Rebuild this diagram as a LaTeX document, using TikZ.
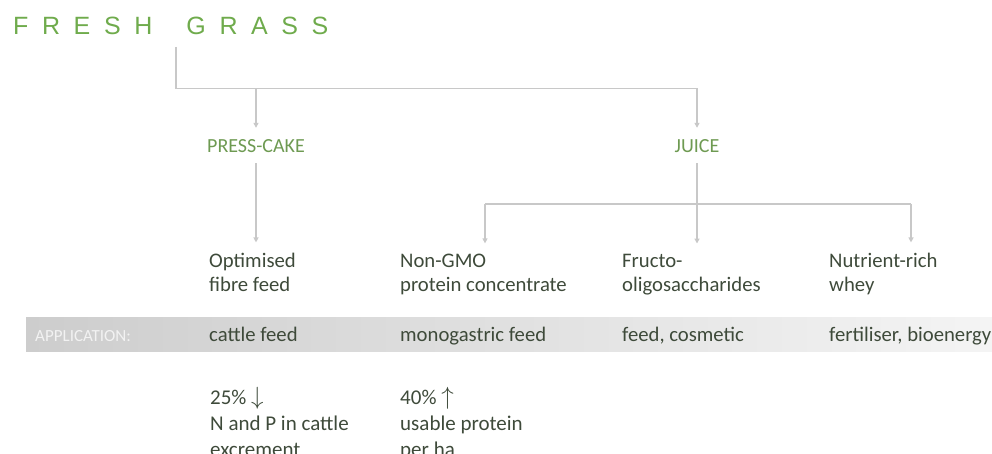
\documentclass[tikz,border=0pt]{standalone}
\usepackage{fontspec}
\setmainfont{Carlito}
\newfontfamily\titlefont{Liberation Sans}
\usetikzlibrary{arrows.meta}
\definecolor{titlegreen}{HTML}{6FAB4C}
\definecolor{labgreen}{HTML}{6E9A52}
\definecolor{bodytext}{HTML}{3E4A3A}
\definecolor{connc}{HTML}{C8C8C8}
\definecolor{barL}{HTML}{CDCDCD}
\definecolor{barR}{HTML}{F4F4F4}
\definecolor{apptext}{HTML}{F2F2F2}
\newcommand\ls{\kern13.6pt}
\begin{document}
\begin{tikzpicture}[x=1pt,y=-1pt,
  conn/.style={draw=connc, line width=1.2pt},
  arr/.style={conn, -{Triangle[length=5pt,width=5pt]}},
  stage/.style={inner sep=0pt, anchor=base, text=labgreen, font=\fontsize{20}{24}\selectfont},
  prod/.style={inner sep=0pt, anchor=base west, align=left, text=bodytext, font=\fontsize{20.7}{24}\selectfont},
  appl/.style={inner sep=0pt, anchor=base west, text=bodytext, font=\fontsize{20.7}{24}\selectfont},
  result/.style={inner sep=0pt, anchor=base west, align=left, text=bodytext, font=\fontsize{21}{26}\selectfont},
]
\useasboundingbox (0,0) rectangle (992,454);
% title
\node[inner sep=0pt, anchor=base west, text=titlegreen, font=\titlefont\fontsize{25}{30}\selectfont] (title) at (13,35)
  {F\ls R\ls E\ls S\ls H\ls\ \ls G\ls R\ls A\ls S\ls S};
% stages
\node[stage] (press) at (256,153) {PRESS-CAKE};
\node[stage] (juice) at (697,153) {JUICE};
% products (base anchor = baseline of last line)
\node[prod] (fibre) at (209,291) {Optimised\\fibre feed};
\node[prod] (protein) at (400,291) {Non-GMO\\protein concentrate};
\node[prod] (fructo) at (622,291) {Fructo-\\oligosaccharides};
\node[prod] (whey) at (829,291) {Nutrient-rich\\whey};
% connectors
\coordinate (top) at (176,47);
\coordinate (hb) at (176,88.5);
\coordinate (px) at (485,204);
\coordinate (wx) at (911,204);
\draw[arr, shorten >=12pt] (top) -- (hb) -| (juice.north);
\draw[arr, shorten >=12pt] (hb -| press) -- (press.north);
\draw[arr, shorten <=10pt, shorten >=10pt] (press.south) -- (press |- fibre.north);
\draw[arr, shorten <=10pt, shorten >=10pt] (juice.south) -- (juice |- fructo.north);
\draw[conn] (px) -- (wx);
\draw[arr, shorten >=10pt] (px) -- (px |- protein.north);
\draw[arr, shorten >=10pt] (wx) -- (wx |- whey.north);
% application bar
\fill[left color=barL, right color=barR] (26,317) rectangle (992,351);
\node[inner sep=0pt, anchor=base west, text=apptext, font=\fontsize{17}{20}\selectfont] (app) at (35,341) {APPLICATION:};
\node[appl] (a1) at (209,341) {cattle feed};
\node[appl] (a2) at (400,341) {monogastric feed};
\node[appl] (a3) at (622,341) {feed, cosmetic};
\node[appl] (a4) at (829,341) {fertiliser, bioenergy};
% results (base anchor = baseline of last line)
\node[result] (r1) at (210,456) {25\% {\fontsize{24}{26}\selectfont$\downarrow$}\\N and P in cattle\\excrement};
\node[result] (r2) at (400,456) {40\% {\fontsize{24}{26}\selectfont$\uparrow$}\\usable protein\\per ha};
\end{tikzpicture}
\end{document}
